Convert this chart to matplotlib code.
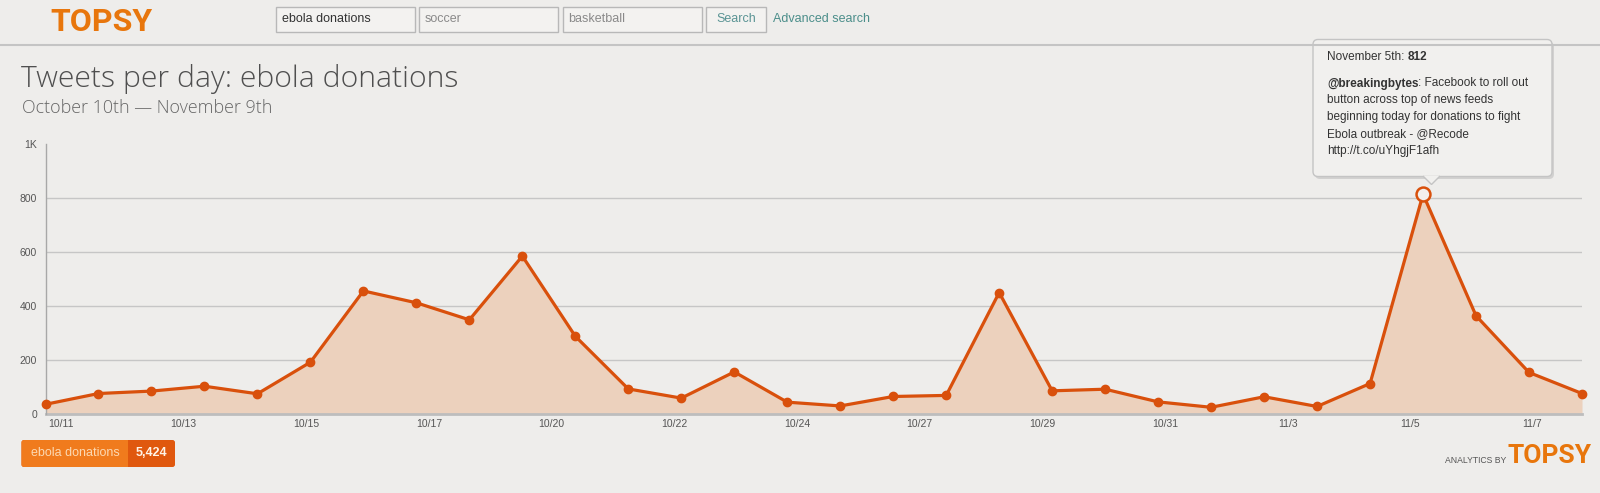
import numpy as np
import matplotlib.pyplot as plt
from matplotlib.patches import Rectangle, FancyBboxPatch, Polygon

# tweets per day, Oct 10 .. Nov 8
tweets = [34, 74, 83, 101, 73, 190, 454, 410, 347, 583,
          286, 91, 57, 154, 42, 28, 63, 67, 448, 84,
          90, 43, 23, 62, 26, 111, 812, 362, 152, 74]
peak_idx = 26
tick_pos = [0.29, 2.60, 4.92, 7.24, 9.55, 11.87, 14.18,
            16.50, 18.82, 21.13, 23.45, 25.75, 28.06]
tick_labels = ['10/11', '10/13', '10/15', '10/17', '10/20', '10/22', '10/24',
               '10/27', '10/29', '10/31', '11/3', '11/5', '11/7']
y_ticks = [0, 200, 400, 600, 800, 1000]
y_labels = ['0', '200', '400', '600', '800', '1K']
search_terms = ['ebola donations', 'soccer', 'basketball']
total_label = '5,424'
tooltip_lines = ['button across top of news feeds',
                 'beginning today for donations to fight',
                 'Ebola outbreak - @Recode',
                 'http://t.co/uYhgjF1afh']

W, H = 1600, 493
BG = '#eeedeb'
ORANGE = '#e8760c'
LINE = '#d9500c'
SANS = ['Liberation Sans', 'DejaVu Sans']
LOGO = ['Roboto', 'DejaVu Sans']

fig = plt.figure(figsize=(W / 100, H / 100), dpi=100)
fig.patch.set_facecolor(BG)

# main chart
ax = fig.add_axes([45.5 / W, 1 - 413.5 / H, (1582 - 45.5) / W, 270 / H])
ax.set_facecolor('none')
x = np.arange(len(tweets))
ax.fill_between(x, tweets, color='#ecd1bd', lw=0, zorder=1)
ax.plot(x, tweets, color=LINE, lw=2.3, marker='o', ms=6, zorder=3, clip_on=False)
ax.plot(x[peak_idx], tweets[peak_idx], 'o', ms=10, mfc='#f4f0ed', mec=LINE,
        mew=1.8, zorder=4, clip_on=False)
ax.set_xlim(0, len(tweets) - 1)
ax.set_ylim(0, 1000)
ax.set_yticks(y_ticks, y_labels)
ax.set_xticks(tick_pos, tick_labels)
ax.yaxis.grid(True, color='#c6c6c6', lw=1)
gl = ax.get_ygridlines()
gl[0].set_visible(False)
gl[-1].set_visible(False)
ax.set_axisbelow(True)
for s in ['top', 'right']:
    ax.spines[s].set_visible(False)
ax.spines['left'].set_color('#a8a8a8')
ax.spines['left'].set_linewidth(1)
ax.spines['bottom'].set_color('#bdbdbd')
ax.spines['bottom'].set_linewidth(2)
ax.spines['bottom'].set_zorder(2)
ax.tick_params(length=0, labelsize=7.5, labelcolor='#555555')
ax.tick_params(axis='x', pad=4)
ax.tick_params(axis='y', pad=6)
for lab in ax.get_xticklabels() + ax.get_yticklabels():
    lab.set_family(SANS)

# page chrome in pixel coordinates
ov = fig.add_axes([0, 0, 1, 1], zorder=5)
ov.set_xlim(0, W)
ov.set_ylim(H, 0)
ov.axis('off')
ov.patch.set_visible(False)

ov.plot([0, W], [44.5, 44.5], color='#c4c4c4', lw=1.5)
ov.text(101, 31, 'TOPSY', ha='center', va='baseline', fontsize=23,
        weight='bold', color=ORANGE, family=LOGO)

box_x = [275.5, 419, 562.5]
for i, term in enumerate(search_terms):
    ov.add_patch(Rectangle((box_x[i], 7), 139, 25, fc='#f3f2f0', ec='#b8b8b8', lw=1))
    ov.text(box_x[i] + 6, 19.5, term, va='center', fontsize=9, family=SANS,
            color='#333333' if i == 0 else '#8a8a8a')
ov.add_patch(Rectangle((705.5, 7), 60.5, 25, fc='#f3f2f0', ec='#b8b8b8', lw=1))
ov.text(736, 19.5, 'Search', ha='center', va='center', fontsize=9,
        family=SANS, color='#5a9494')
ov.text(773, 19.5, 'Advanced search', va='center', fontsize=9,
        family=SANS, color='#4b8e8a')

ov.text(21, 87.3, 'Tweets per day: ebola donations', va='baseline', fontsize=21.7,
        family='Open Sans', weight='light', color='#4f4f4f')
ov.text(22, 112.7, 'October 10th \u2014 November 9th', va='baseline', fontsize=12.9,
        family='Open Sans', weight='light', color='#666666')

# tooltip
ov.add_patch(FancyBboxPatch((1315, 42), 239, 137, boxstyle='round,pad=0,rounding_size=5',
                            fc='#a8a8a8', ec='none', alpha=0.4))
ov.add_patch(FancyBboxPatch((1313, 39.5), 239, 137, boxstyle='round,pad=0,rounding_size=5',
                            fc='#f1f0ee', ec='#c4c4c4', lw=1))
ov.add_patch(Polygon([(1423, 176), (1431.5, 184.5), (1440, 176)], closed=False,
                     fc='#f1f0ee', ec='#c4c4c4', lw=1))
t1 = ov.text(1327, 57.5, 'November 5th: ', va='center', fontsize=8.5,
             family=SANS, color='#333333')
ov.annotate(str(tweets[peak_idx]), xy=(1, 0), xycoords=t1, va='bottom',
            fontsize=8.5, family=SANS, weight='bold', color='#333333')
t2 = ov.text(1327, 83.5, '@breakingbytes', va='center', fontsize=8.5,
             family=SANS, weight='bold', color='#333333')
ov.annotate(': Facebook to roll out', xy=(1, 0), xycoords=t2, va='bottom',
            fontsize=8.5, family=SANS, color='#333333')
for i, line in enumerate(tooltip_lines):
    ov.text(1327, 100.5 + i * 16.8, line, va='center', fontsize=8.5,
            family=SANS, color='#333333')

# legend chip
ov.add_patch(FancyBboxPatch((21.5, 440), 153.5, 27, boxstyle='round,pad=0,rounding_size=2.5',
                            fc='#e0580e', ec='none'))
ov.add_patch(FancyBboxPatch((21.5, 440), 106.5, 27, boxstyle='round,pad=0,rounding_size=2.5',
                            fc='#f07b1d', ec='none'))
ov.add_patch(Rectangle((122, 440), 6, 27, fc='#f07b1d', ec='none'))
ov.text(75, 453.5, search_terms[0], ha='center', va='center', fontsize=9,
        family=SANS, color='#fcd9b2')
ov.text(151.5, 453.5, total_label, ha='center', va='center', fontsize=9,
        family=SANS, weight='bold', color='#fff4e8')

# footer logo
ov.text(1506, 463, 'ANALYTICS BY', ha='right', va='baseline', fontsize=6.2,
        family=SANS, color='#555555')
ov.text(1508, 463, 'TOPSY', ha='left', va='baseline', fontsize=19,
        family=LOGO, weight='bold', color=ORANGE)

fig.savefig('out.png', dpi=100, facecolor=BG)
